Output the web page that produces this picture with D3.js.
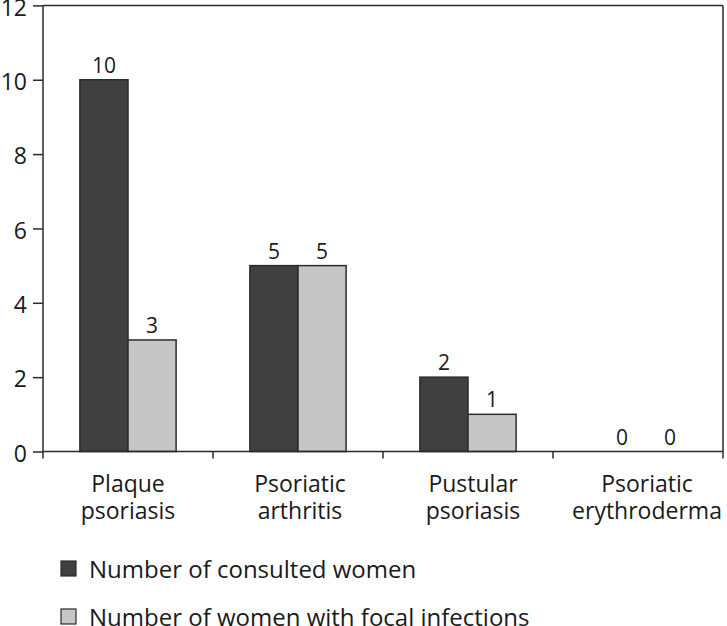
<!DOCTYPE html>
<html>
<head>
<meta charset="utf-8">
<script src="https://cdn.jsdelivr.net/npm/d3@7"></script>
<style>
  html, body { margin: 0; padding: 0; background: #fff; }
  svg { display: block; }
  text { font-family: "Open Sans", "Noto Sans", sans-serif; fill: #1a1a1a; }
</style>
</head>
<body>
<svg id="chart" width="727" height="626"></svg>
<script>
const categories = [["Plaque", "psoriasis"], ["Psoriatic", "arthritis"], ["Pustular", "psoriasis"], ["Psoriatic", "erythroderma"]];
const seriesNames = ["Number of consulted women", "Number of women with focal infections"];
const consulted = [10, 5, 2, 0];
const focal = [3, 5, 1, 0];
const yTicks = [0, 2, 4, 6, 8, 10, 12];
const colors = ["#404040", "#c6c6c6"];

(function () {
const svg = d3.select("#chart");
const pLeft = 43, pRight = 723, pTop = 5.4, pBottom = 451.5;
const stroke = "#2b2b2b";

const catKeys = categories.map(c => c.join(" "));
const x0 = d3.scaleBand().domain(catKeys).range([pLeft, pRight]).padding(0);
const bw = x0.bandwidth();
const x1 = d3.scaleBand().domain([0, 1]).range([bw * 0.217, bw * 0.783]).padding(0);
const y = d3.scaleLinear().domain([0, 12]).range([pBottom, pTop]);

// frame top and right
svg.append("line").attr("x1", pLeft).attr("x2", pRight).attr("y1", y(12)).attr("y2", y(12))
  .attr("stroke", stroke).attr("stroke-width", 1.5);
svg.append("line").attr("x1", pRight).attr("x2", pRight).attr("y1", y(12)).attr("y2", pBottom + 7)
  .attr("stroke", stroke).attr("stroke-width", 1.5);

// bars
const data = catKeys.map((k, i) => ({ k, vals: [consulted[i], focal[i]] }));
const g = svg.append("g");
data.forEach(d => {
  d.vals.forEach((v, j) => {
    const bx = x0(d.k) + x1(j);
    if (v > 0) {
      g.append("rect")
        .attr("x", bx).attr("y", y(v))
        .attr("width", x1.bandwidth()).attr("height", y(0) - y(v))
        .attr("fill", colors[j]).attr("stroke", stroke).attr("stroke-width", 1.5);
    }
    g.append("text")
      .attr("x", bx + x1.bandwidth() / 2 + (v === 0 ? 8 : 0))
      .attr("y", y(v) - 7)
      .attr("text-anchor", "middle")
      .attr("font-size", 21)
      .text(v);
  });
});

// y axis
const yAxis = d3.axisLeft(y).tickValues(yTicks).tickSize(10).tickPadding(6).tickFormat(d3.format("d"));
const ya = svg.append("g").attr("transform", `translate(${pLeft},0)`).call(yAxis);
ya.select(".domain").remove();
ya.selectAll(".tick line").attr("stroke", stroke).attr("stroke-width", 1.5);
ya.selectAll(".tick text").attr("font-size", 23).attr("fill", "#1a1a1a")
  .attr("font-family", "'Open Sans', sans-serif").attr("dy", "0.42em");
svg.append("line").attr("x1", pLeft).attr("x2", pLeft).attr("y1", y(12)).attr("y2", pBottom + 7)
  .attr("stroke", stroke).attr("stroke-width", 1.5);

// x axis
svg.append("line").attr("x1", pLeft).attr("x2", pRight).attr("y1", pBottom).attr("y2", pBottom)
  .attr("stroke", stroke).attr("stroke-width", 1.5);
catKeys.slice(1).forEach(k => {
  svg.append("line").attr("x1", x0(k)).attr("x2", x0(k)).attr("y1", pBottom).attr("y2", pBottom + 7)
    .attr("stroke", stroke).attr("stroke-width", 1.5);
});
const labelShift = [0, 2, 5, 9];
categories.forEach((c, i) => {
  const cx = x0(catKeys[i]) + bw / 2 + labelShift[i];
  const t = svg.append("text")
    .attr("x", cx)
    .attr("y", pBottom + 40)
    .attr("text-anchor", "middle")
    .attr("font-size", 23);
  c.forEach((line, li) => {
    t.append("tspan").attr("x", cx).attr("dy", li === 0 ? 0 : 27).text(line);
  });
});

// legend
seriesNames.forEach((s, i) => {
  const ly = 561 + i * 48;
  svg.append("rect").attr("x", 61).attr("y", ly).attr("width", 15).attr("height", 15)
    .attr("fill", colors[i]).attr("stroke", stroke).attr("stroke-width", 1.2);
  svg.append("text").attr("x", 89).attr("y", ly + 17).attr("font-size", 24).text(s);
});
})();
</script>
</body>
</html>
